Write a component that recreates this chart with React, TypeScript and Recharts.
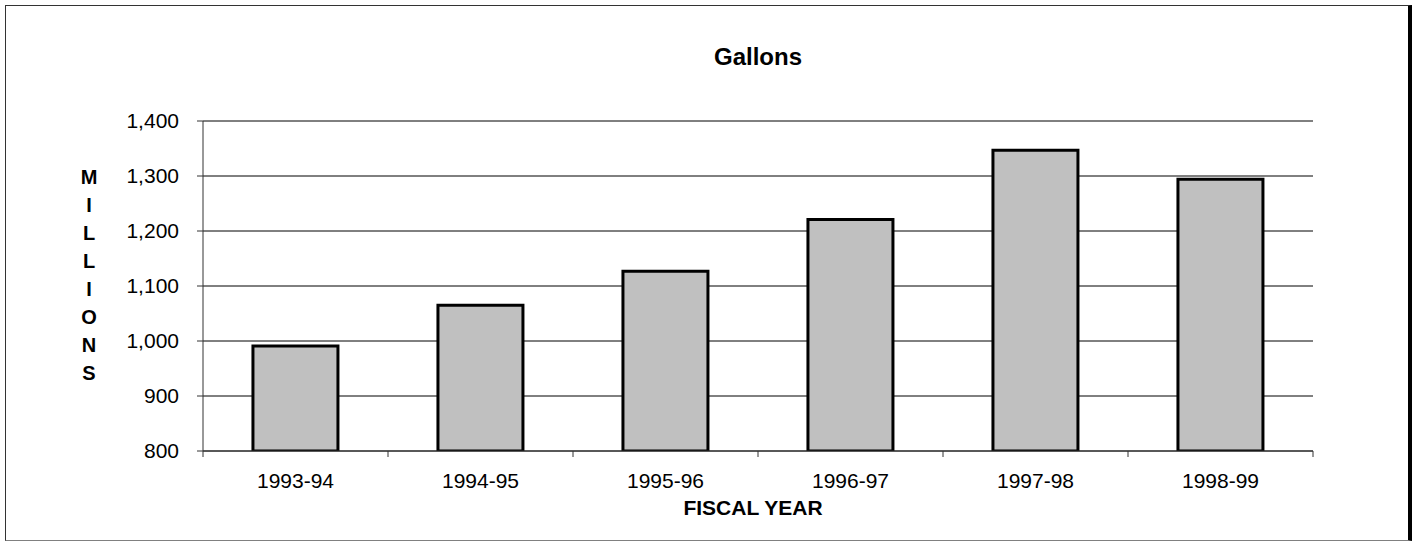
import React from 'react';
import { BarChart, Bar, XAxis, YAxis, CartesianGrid } from 'recharts';

// data (millions of gallons)
const fiscalYears = ['1993-94', '1994-95', '1995-96', '1996-97', '1997-98', '1998-99'];
const gallons = [991, 1065, 1127, 1221, 1347, 1294];
const yTicks = [800, 900, 1000, 1100, 1200, 1300, 1400];
const yLabelLetters = ['M', 'I', 'L', 'L', 'I', 'O', 'N', 'S'];

const data = fiscalYears.map((year, i) => ({ year, gallons: gallons[i] }));

const W = 1417;
const H = 541;
const PLOT_LEFT = 203;
const PLOT_RIGHT = 1313;
const PLOT_TOP = 121;
const PLOT_BOTTOM = 451;
const BAND = (PLOT_RIGHT - PLOT_LEFT) / fiscalYears.length;
const FONT = '"Liberation Sans", Arial, sans-serif';

// x ticks sit between categories (Excel style), label in the middle
const XTick = ({ x, y, payload, index }: any) => (
  <g>
    <line x1={x - BAND / 2} y1={y} x2={x - BAND / 2} y2={y + 6} stroke="#333" />
    {index === fiscalYears.length - 1 && (
      <line x1={x + BAND / 2} y1={y} x2={x + BAND / 2} y2={y + 6} stroke="#333" />
    )}
    <text x={x} y={y + 37} textAnchor="middle" fontSize={21} fontFamily={FONT} fill="#000">
      {payload.value}
    </text>
  </g>
);

export default function App() {
  return (
    <div style={{ position: 'absolute', left: 0, top: 0, width: W, height: H, background: '#fff', fontFamily: FONT }}>
      <div
        style={{
          position: 'absolute',
          left: 5,
          top: 5,
          width: 1407,
          height: 536,
          boxSizing: 'border-box',
          borderLeft: '1px solid #333',
          borderTop: '1px solid #333',
          borderRight: '4px solid #000',
          borderBottom: '1px solid #808080',
        }}
      />
      <div
        style={{
          position: 'absolute',
          left: PLOT_LEFT,
          width: PLOT_RIGHT - PLOT_LEFT,
          top: 45,
          lineHeight: '24px',
          fontSize: 24,
          fontWeight: 'bold',
          textAlign: 'center',
        }}
      >
        Gallons
      </div>
      <div
        style={{
          position: 'absolute',
          left: 69,
          width: 40,
          top: 163,
          fontSize: 20,
          fontWeight: 'bold',
          lineHeight: '28px',
          textAlign: 'center',
        }}
      >
        {yLabelLetters.map((c, i) => (
          <div key={i}>{c}</div>
        ))}
      </div>
      <div
        style={{
          position: 'absolute',
          left: 653,
          width: 200,
          top: 497,
          fontSize: 21,
          fontWeight: 'bold',
          lineHeight: '21px',
          textAlign: 'center',
        }}
      >
        FISCAL YEAR
      </div>
      <div style={{ position: 'absolute', left: 0, top: 0 }}>
        <BarChart
          width={W}
          height={H}
          data={data}
          margin={{ top: PLOT_TOP, right: W - PLOT_RIGHT, bottom: 0, left: 0 }}
          barCategoryGap="27%"
        >
          <CartesianGrid vertical={false} stroke="#000" />
          <XAxis
            dataKey="year"
            height={H - PLOT_BOTTOM}
            tickLine={false}
            tickSize={0}
            tickMargin={0}
            axisLine={{ stroke: '#333' }}
            tick={<XTick />}
            interval={0}
          />
          <YAxis
            width={PLOT_LEFT}
            domain={[800, 1400]}
            ticks={yTicks}
            interval={0}
            tickSize={6}
            tickMargin={18}
            axisLine={{ stroke: '#333' }}
            tickLine={{ stroke: '#333' }}
            tick={{ fontSize: 21, fill: '#000', fontFamily: FONT }}
            tickFormatter={(v: number) => v.toLocaleString('en-US')}
            allowDataOverflow
          />
          <Bar dataKey="gallons" fill="#C0C0C0" stroke="#000" strokeWidth={3} isAnimationActive={false} />
        </BarChart>
      </div>
    </div>
  );
}
